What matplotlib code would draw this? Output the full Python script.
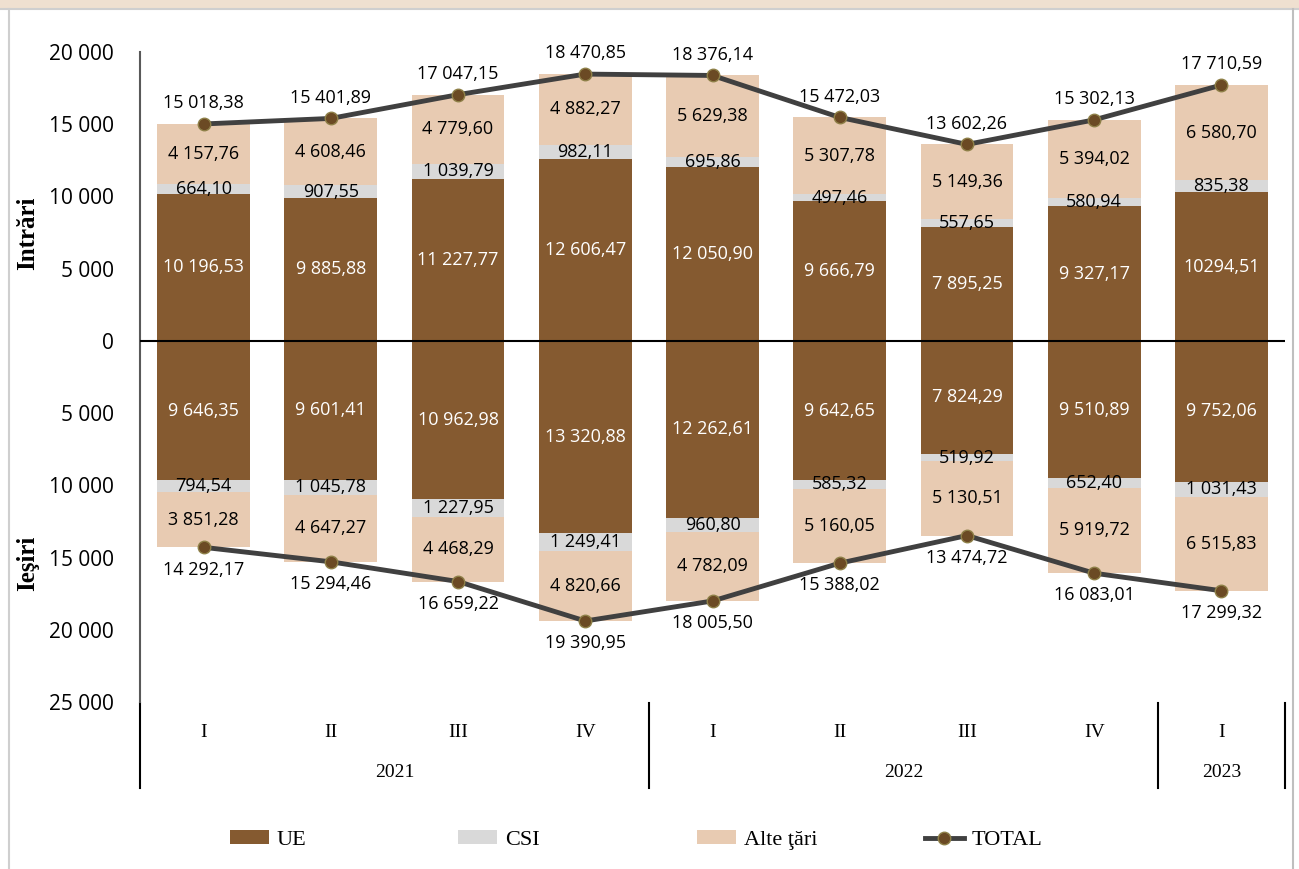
"""Comert exterior pe trimestre: intrari (sus) si iesiri (jos), pe grupe de tari."""

import matplotlib.pyplot as plt
import numpy as np
from matplotlib.lines import Line2D
from matplotlib.patches import Patch, Rectangle

# --- date ---
quarters = ["I", "II", "III", "IV", "I", "II", "III", "IV", "I"]
years = ["2021", "2022", "2023"]
year_span = [(0, 3), (4, 7), (8, 8)]  # index primul / ultimul trimestru din an

in_ue = [10196.53, 9885.88, 11227.77, 12606.47, 12050.90, 9666.79, 7895.25, 9327.17, 10294.51]
in_csi = [664.10, 907.55, 1039.79, 982.11, 695.86, 497.46, 557.65, 580.94, 835.38]
in_alte = [4157.76, 4608.46, 4779.60, 4882.27, 5629.38, 5307.78, 5149.36, 5394.02, 6580.70]
in_total = [15018.38, 15401.89, 17047.15, 18470.85, 18376.14, 15472.03, 13602.26, 15302.13, 17710.59]

out_ue = [9646.35, 9601.41, 10962.98, 13320.88, 12262.61, 9642.65, 7824.29, 9510.89, 9752.06]
out_csi = [794.54, 1045.78, 1227.95, 1249.41, 960.80, 585.32, 519.92, 652.40, 1031.43]
out_alte = [3851.28, 4647.27, 4468.29, 4820.66, 4782.09, 5160.05, 5130.51, 5919.72, 6515.83]
out_total = [14292.17, 15294.46, 16659.22, 19390.95, 18005.50, 15388.02, 13474.72, 16083.01, 17299.32]

C_UE = "#855a30"
C_CSI = "#d9d9d9"
C_ALTE = "#e8cbb2"
C_LINE = "#404040"
C_MARK = "#6b4a24"
C_MEDGE = "#8e8048"

SANS = "Open Sans"
SERIF = "Liberation Serif"


def fmt(v: float) -> str:
    """Format romanesc: spatiu pentru mii, virgula zecimala."""
    s = f"{v:,.2f}"
    return s.replace(",", " ").replace(".", ",")


fig = plt.figure(figsize=(12.99, 8.69), dpi=100)
fig.patch.set_facecolor("white")

# banda de sus + chenar
fig.patches.append(Rectangle((0, 1 - 8 / 869), 1, 8 / 869, transform=fig.transFigure,
                             facecolor="#efe0d0", edgecolor="none", zorder=0))
fig.lines.append(Line2D([0, 1], [1 - 9 / 869] * 2, transform=fig.transFigure,
                        color="#cfcfcf", lw=1.5))
fig.lines.append(Line2D([9 / 1299] * 2, [0, 1 - 9 / 869], transform=fig.transFigure,
                        color="#cfcfcf", lw=1.5))
fig.lines.append(Line2D([1293 / 1299] * 2, [0, 1 - 9 / 869], transform=fig.transFigure,
                        color="#bfbfbf", lw=1.5))

ax = fig.add_axes([140 / 1299, 167 / 869, 1145 / 1299, 650 / 869])
x = np.arange(len(quarters))
w = 0.73

ue_p = np.array(in_ue)
csi_p = np.array(in_csi)
alte_p = np.array(in_alte)
ue_n = -np.array(out_ue)
csi_n = -np.array(out_csi)
alte_n = -np.array(out_alte)

b1 = ax.bar(x, ue_p, w, color=C_UE, zorder=2)
b2 = ax.bar(x, csi_p, w, bottom=ue_p, color=C_CSI, zorder=2)
b3 = ax.bar(x, alte_p, w, bottom=ue_p + csi_p, color=C_ALTE, zorder=2)
b4 = ax.bar(x, ue_n, w, color=C_UE, zorder=2)
b5 = ax.bar(x, csi_n, w, bottom=ue_n, color=C_CSI, zorder=2)
b6 = ax.bar(x, alte_n, w, bottom=ue_n + csi_n, color=C_ALTE, zorder=2)

lab_ue_in = [fmt(v) for v in in_ue]
lab_ue_in[-1] = lab_ue_in[-1].replace(" ", "")  # asa apare in original
lbl = dict(label_type="center", fontsize=13, family=SANS)
ax.bar_label(b1, labels=lab_ue_in, color="white", **lbl)
ax.bar_label(b2, labels=[fmt(v) for v in in_csi], **lbl)
ax.bar_label(b3, labels=[fmt(v) for v in in_alte], **lbl)
ax.bar_label(b4, labels=[fmt(v) for v in out_ue], color="white", **lbl)
ax.bar_label(b5, labels=[fmt(v) for v in out_csi], **lbl)
ax.bar_label(b6, labels=[fmt(v) for v in out_alte], **lbl)

# linia TOTAL
for tot, sign in ((in_total, 1), (out_total, -1)):
    yy = sign * np.array(tot)
    ax.plot(x, yy, color=C_LINE, lw=3.5, marker="o", ms=9, mfc=C_MARK,
            mec=C_MEDGE, mew=1, zorder=5)
    off = 15 if sign > 0 else -16
    for xi, yi, v in zip(x, yy, tot):
        ax.annotate(fmt(v), (xi, yi), xytext=(0, off), textcoords="offset points",
                    ha="center", va="center", fontsize=13, family=SANS, zorder=6)

ax.axhline(0, color="black", lw=1.5, zorder=3)

ax.set_xlim(-0.5, len(quarters) - 0.5)
ax.set_ylim(-25000, 20000)
yt = np.arange(-25000, 20001, 5000)
ax.set_yticks(yt)
ax.set_yticklabels([fmt(abs(v))[:-3] for v in yt], family=SANS, fontsize=15)
ax.tick_params(axis="y", length=0, pad=19)
ax.set_xticks(x)
ax.set_xticklabels(quarters, family=SERIF, fontsize=14)
ax.tick_params(axis="x", length=0, pad=16)

for s in ("top", "right", "bottom"):
    ax.spines[s].set_visible(False)
ax.spines["left"].set_color("#595959")
ax.spines["left"].set_linewidth(1.5)

# axa de categorii pe doua niveluri
tr = ax.get_xaxis_transform()
for (a, b), yr in zip(year_span, years):
    ax.text((a + b) / 2, -0.109, yr, transform=tr, ha="center", va="center",
            family=SERIF, fontsize=14)
for xs in [-0.5] + [b + 0.5 for _, b in year_span]:
    ax.plot([xs, xs], [-0.002, -0.132], transform=tr, color="black", lw=1.5,
            clip_on=False)

fig.text(28 / 1299, 1 - 233 / 869, "Intrări", rotation=90, ha="center", va="center",
         family=SERIF, fontsize=18, fontweight="bold")
fig.text(28 / 1299, 1 - 563 / 869, "Ieşiri", rotation=90, ha="center", va="center",
         family=SERIF, fontsize=18, fontweight="bold")

# legenda: patru intrari plasate separat, ca in Excel
handles = [
    Patch(facecolor=C_UE, label="UE"),
    Patch(facecolor=C_CSI, label="CSI"),
    Patch(facecolor=C_ALTE, label="Alte ţări"),
    Line2D([], [], color=C_LINE, lw=3.5, marker="o", ms=9, mfc=C_MARK, mec=C_MEDGE,
           label="TOTAL"),
]
for h, px in zip(handles, [230, 458, 697, 925]):
    fig.legend(handles=[h], loc="center left", bbox_to_anchor=(px / 1299, 1 - 840 / 869),
               frameon=False, borderpad=0, borderaxespad=0, handlelength=1.75,
               handleheight=0.6, handletextpad=0.35, prop={"family": SERIF, "size": 16})

fig.savefig("out.png", dpi=100)
